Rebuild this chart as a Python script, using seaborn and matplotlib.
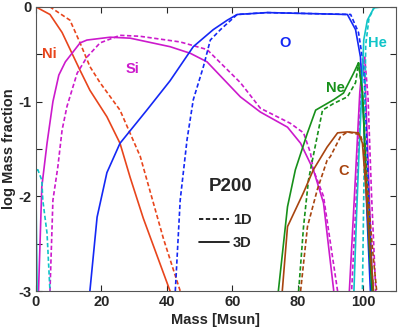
import seaborn as sns
import matplotlib.pyplot as plt
from matplotlib.lines import Line2D
import numpy as np
import pandas as pd

# Ni
ni_3d_m = [0, 4.3, 8, 13.5, 16.5, 21.7, 25.7, 28.8, 32.8, 41, 42]
ni_3d_y = [0, -0.08, -0.27, -0.67, -0.88, -1.16, -1.44, -1.8, -2.23, -3.0, -3.1]
ni_1d_m = [0, 4.3, 10.4, 13.5, 16.5, 19.6, 25.7, 31.9, 39, 44.1, 45]
ni_1d_y = [0, 0, -0.14, -0.38, -0.63, -0.8, -1.09, -1.58, -2.45, -3.0, -3.1]

# Si
si_3d_m = [0.8, 1.8, 3.4, 5.2, 7, 9, 13.5, 15.6, 22.7, 28.8, 41, 47.2, 52.3, 62.5, 68.6,
           76.9, 80.9, 84.8, 87.9, 91, 92, 95.8, 97.5, 99.0, 99.8, 100.6, 101.5, 102.5, 103.2]
si_3d_y = [-3, -1.9, -1.44, -1.0, -0.72, -0.58, -0.38, -0.35, -0.32, -0.33, -0.42, -0.49,
           -0.58, -0.95, -1.11, -1.27, -1.44, -1.72, -2.07, -2.99, -4, -3, -1.9, -0.9, -0.6,
           -0.75, -1.6, -2.6, -3.1]
si_1d_m = [4.3, 5.2, 6.7, 8, 9.5, 12.6, 15.6, 19.6, 25.7, 31.8, 44.1, 52.3, 62.5, 68.6, 77.8,
           81.8, 83.9, 84.8, 87.9, 92.2, 93, 96.5, 98.2, 99.5, 100.5, 101.5, 102.6, 104.0]
si_1d_y = [-3, -2.04, -1.69, -1.3, -1.05, -0.7, -0.53, -0.38, -0.3, -0.31, -0.37, -0.45, -0.8,
           -1.07, -1.23, -1.33, -1.54, -1.72, -2.0, -3, -4, -3, -1.8, -0.8, -0.53, -0.95,
           -2.0, -3.1]

# O
o_3d_m = [16.5, 18.7, 21.7, 25.7, 33.9, 41, 48.1, 54.2, 58.5, 61.5, 70.7, 95.2, 97.7, 99.2,
          100.2, 101.2, 102.3]
o_3d_y = [-3, -2.22, -1.75, -1.44, -1.09, -0.78, -0.42, -0.24, -0.14, -0.08, -0.06, -0.08,
          -0.24, -0.53, -1.2, -2.2, -3.05]
o_1d_m = [42.6, 44.1, 46.2, 48.1, 51.2, 53.3, 56.4, 61.5, 70.7, 96.2, 98.6, 100.2, 101.3, 102.8]
o_1d_y = [-3, -2.04, -1.40, -0.98, -0.63, -0.35, -0.24, -0.08, -0.06, -0.08, -0.27, -0.63,
          -1.6, -3.05]

# He
he_3d_m = [0, 0.2, 0.4, 94, 97.2, 98.0, 98.8, 99.6, 100.2, 101.3, 103.3, 106, 110]
he_3d_y = [-1.88, -2.5, -3.1, -4, -3, -2.2, -1.5, -0.9, -0.35, -0.14, -0.01, 0, 0]
he_1d_m = [0.3, 0.6, 1.8, 2.1, 3.4, 4.3, 5, 97, 99.8, 100.2, 100.5, 100.8, 101.8, 103.5, 106, 110]
he_1d_y = [-1.72, -1.72, -1.83, -2.04, -2.39, -3, -4, -4, -3, -2, -1.2, -0.4, -0.12, 0, 0, 0]

# Ne
ne_3d_m = [74.1, 76.9, 79.3, 83, 85.5, 91, 94, 97.1, 98.6, 99.8, 100.8, 101.8, 102.8]
ne_3d_y = [-3, -2.11, -1.72, -1.33, -1.09, -0.98, -0.91, -0.7, -0.59, -0.9, -1.7, -2.5, -3.05]
ne_1d_m = [80.3, 81.8, 83.3, 84.5, 87.6, 91, 95.2, 97.7, 98.6, 99.8, 101, 102.2, 103.2]
ne_1d_y = [-3, -2.32, -1.83, -1.62, -1.09, -1.02, -0.95, -0.8, -0.59, -0.9, -1.7, -2.5, -3.05]

# C
c_3d_m = [75.3, 76.9, 81.8, 84.8, 89, 92.2, 95.2, 98.6, 99.8, 100.8, 102, 103.3]
c_3d_y = [-3, -2.32, -1.96, -1.72, -1.48, -1.33, -1.32, -1.33, -1.44, -1.9, -2.5, -3.05]
c_1d_m = [80.9, 83, 86, 89, 90, 93.1, 95.2, 99.2, 100.2, 101.5, 103, 104.3]
c_1d_y = [-3, -2.32, -1.93, -1.62, -1.58, -1.37, -1.32, -1.35, -1.48, -2.0, -2.6, -3.05]

series = {
    ("Ni", "3D"): (ni_3d_m, ni_3d_y), ("Ni", "1D"): (ni_1d_m, ni_1d_y),
    ("Si", "3D"): (si_3d_m, si_3d_y), ("Si", "1D"): (si_1d_m, si_1d_y),
    ("O", "3D"): (o_3d_m, o_3d_y), ("O", "1D"): (o_1d_m, o_1d_y),
    ("He", "3D"): (he_3d_m, he_3d_y), ("He", "1D"): (he_1d_m, he_1d_y),
    ("Ne", "3D"): (ne_3d_m, ne_3d_y), ("Ne", "1D"): (ne_1d_m, ne_1d_y),
    ("C", "3D"): (c_3d_m, c_3d_y), ("C", "1D"): (c_1d_m, c_1d_y),
}

colors = {"Ni": "#e8451c", "Si": "#cc1acc", "O": "#1428f5",
          "He": "#10c4c8", "Ne": "#17901a", "C": "#a8440f"}

rows = []
for (el, model), (m, y) in series.items():
    for a, b in zip(m, y):
        rows.append({"mass": a, "logX": b, "element": el, "model": model})
df = pd.DataFrame(rows)

sns.set_style("ticks")
plt.rcParams["font.family"] = ["Liberation Sans", "DejaVu Sans"]
plt.rcParams["font.weight"] = "bold"

fig = plt.figure(figsize=(3.99, 3.29), dpi=100, facecolor="white")
ax = fig.add_axes([0.09, 0.1155, 0.902, 0.8635])

# all curves, colour per element, dash per model
sns.lineplot(data=df, x="mass", y="logX", hue="element", style="model",
             palette=colors, dashes={"3D": "", "1D": (2.6, 1.5)},
             sort=False, estimator=None, units="element", linewidth=1.2,
             legend=False, ax=ax)

ax.set_xlim(0, 110)
ax.set_ylim(-3, 0)
ax.set_xticks([0, 20, 40, 60, 80, 100])
yt = np.arange(-3, 0.01, 0.5)
ax.set_yticks(yt)
ax.set_yticklabels([f"{int(v)}" if v == int(v) else "" for v in yt])
ax.tick_params(direction="in", top=True, right=True, length=4, labelsize=10.5, pad=3)
for lab in ax.get_xticklabels() + ax.get_yticklabels():
    lab.set_fontweight("bold")
for s in ax.spines.values():
    s.set_linewidth(0.8)
    s.set_color("#555555")

ax.set_xlabel("Mass [Msun]", fontsize=10.5, fontweight="bold", labelpad=3)
ax.set_ylabel("log Mass fraction", fontsize=10.5, fontweight="bold", labelpad=2)

# element labels
labels = {"Ni": (4, -0.5), "Si": (29.5, -0.66), "O": (76.3, -0.38), "He": (104.5, -0.38),
          "Ne": (91.5, -0.86), "C": (94, -1.73)}
for el, (lx, ly) in labels.items():
    ax.text(lx, ly, el, color=colors[el], fontsize=10.5, fontweight="bold",
            ha="center", va="center")

ax.text(59.4, -1.90, "P200", fontsize=13.5, fontweight="bold", ha="center", va="center")

handles = [Line2D([], [], color="black", lw=1.2, ls=(0, (2.6, 1.5))),
           Line2D([], [], color="black", lw=1.2)]
ax.legend(handles, ["1D", "3D"], loc="center left", bbox_to_anchor=(0.438, 0.2095),
          frameon=False, handlelength=2.0, handletextpad=0.3, labelspacing=0.65,
          borderaxespad=0, prop={"size": 10.5, "weight": "bold"})

fig.savefig("out.png", dpi=100, facecolor="white")
